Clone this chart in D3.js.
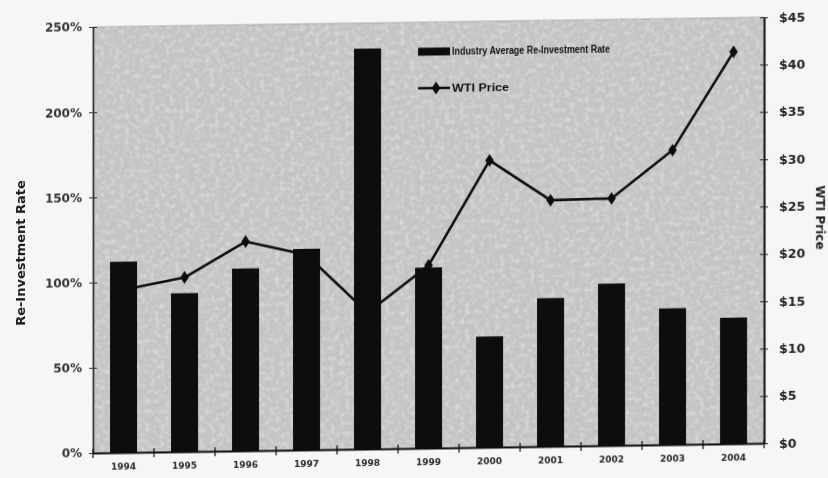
<!DOCTYPE html>
<html>
<head>
<meta charset="utf-8">
<script src="https://cdn.jsdelivr.net/npm/d3@7"></script>
<style>
  html, body { margin: 0; padding: 0; background: #f6f6f6; }
  svg { display: block; }
</style>
</head>
<body>
<svg id="chart" width="828" height="478"></svg>
<script>
// Data
const years = ["1994", "1995", "1996", "1997", "1998", "1999", "2000", "2001", "2002", "2003", "2004"];
const reinvestRate = [112, 93, 107, 118, 235, 106, 65, 87, 95, 80, 74];       // percent
const wtiPrice = [17.2, 18.4, 22.1, 20.6, 14.4, 19.3, 30.3, 26.0, 26.1, 31.1, 41.4]; // US$ / bbl
const rateTicks = [0, 50, 100, 150, 200, 250];
const priceTicks = [0, 5, 10, 15, 20, 25, 30, 35, 40, 45];
const seriesNames = ["Industry Average Re-Investment Rate", "WTI Price"];
const axisTitles = ["Re-Investment Rate", "WTI Price"];

// Layout
const plot = { left: 93, right: 764, top: 27, bottom: 453 };
const skew = -0.0145;              // the printed page sits slightly tilted
const ink = "#111";
const tickFont = "'DejaVu Sans', Verdana, sans-serif";
const textFont = "'Liberation Sans', Arial, sans-serif";

const svg = d3.select("#chart");
const defs = svg.append("defs");

// paper grain for the shaded plot area
const grain = defs.append("filter").attr("id", "grain")
  .attr("x", 0).attr("y", 0).attr("width", 1).attr("height", 1);
grain.append("feTurbulence").attr("type", "fractalNoise")
  .attr("baseFrequency", 0.2).attr("numOctaves", 3).attr("seed", 7);
grain.append("feColorMatrix").attr("type", "matrix")
  .attr("values", "0 0 0 0 1  0 0 0 0 1  0 0 0 0 1  0 0 0 2.2 -0.95");

const soft = defs.append("filter").attr("id", "soft")
  .attr("x", -0.05).attr("y", -0.05).attr("width", 1.1).attr("height", 1.1);
soft.append("feGaussianBlur").attr("stdDeviation", 0.45);

const g = svg.append("g")
  .attr("transform", `matrix(1,${skew},0,1,0,${-skew * plot.left})`)
  .attr("filter", "url(#soft)");

// Scales
const x = d3.scaleBand().domain(years)
  .range([plot.left, plot.right]).paddingInner(0.557).paddingOuter(0.2785);
const yRate = d3.scaleLinear().domain([0, 250]).range([plot.bottom, plot.top]);
const yPrice = d3.scaleLinear().domain([0, 45]).range([plot.bottom, plot.top]);

// Plot background
g.append("rect")
  .attr("x", plot.left).attr("y", plot.top)
  .attr("width", plot.right - plot.left).attr("height", plot.bottom - plot.top)
  .attr("fill", "#c4c4c4").attr("stroke", "#a8a8a8").attr("stroke-width", 1);
g.append("rect")
  .attr("x", plot.left).attr("y", plot.top)
  .attr("width", plot.right - plot.left).attr("height", plot.bottom - plot.top)
  .attr("filter", "url(#grain)").attr("opacity", 0.4);

// Bars
g.append("g").selectAll("rect").data(years).join("rect")
  .attr("x", d => x(d))
  .attr("y", (d, i) => yRate(reinvestRate[i]))
  .attr("width", x.bandwidth())
  .attr("height", (d, i) => yRate(0) - yRate(reinvestRate[i]))
  .attr("fill", "#0c0c0c");

// WTI line
const cx = d => x(d) + x.bandwidth() / 2;
const line = d3.line().x((d, i) => cx(years[i])).y(d => yPrice(d));
g.append("path").datum(wtiPrice)
  .attr("d", line).attr("fill", "none")
  .attr("stroke", ink).attr("stroke-width", 2.6).attr("stroke-linejoin", "round");
const diamond = d3.symbol().type(d3.symbolDiamond).size(48);
g.append("g").selectAll("path").data(wtiPrice).join("path")
  .attr("d", diamond)
  .attr("transform", (d, i) => `translate(${cx(years[i])},${yPrice(d)}) scale(1.15,1)`)
  .attr("fill", ink);

// Left axis
const leftAxis = g.append("g").attr("transform", `translate(${plot.left},0)`)
  .call(d3.axisLeft(yRate).tickValues(rateTicks).tickFormat(d => d + "%")
    .tickSizeInner(4).tickSizeOuter(0).tickPadding(7));
leftAxis.selectAll(".tick line").attr("x1", -4).attr("x2", 4).attr("stroke", "#333");
leftAxis.select(".domain").attr("stroke", "#333").attr("stroke-width", 1.6);
leftAxis.selectAll("text").attr("font-family", tickFont).attr("font-weight", "bold")
  .attr("font-size", 12).attr("fill", "#333");

// Right axis
const rightAxis = g.append("g").attr("transform", `translate(${plot.right},0)`)
  .call(d3.axisRight(yPrice).tickValues(priceTicks).tickFormat(d => "$" + d)
    .tickSizeInner(4).tickSizeOuter(0).tickPadding(11));
rightAxis.selectAll(".tick line").attr("x1", -4).attr("x2", 4).attr("stroke", "#222");
rightAxis.select(".domain").attr("stroke", ink).attr("stroke-width", 2);
rightAxis.selectAll("text").attr("font-family", tickFont).attr("font-weight", "bold")
  .attr("font-size", 12.5).attr("fill", "#222");

// Bottom axis: labels under bars, tick marks at category boundaries
const bottomAxis = g.append("g").attr("transform", `translate(0,${plot.bottom})`)
  .call(d3.axisBottom(x).tickSize(0).tickPadding(11));
bottomAxis.select(".domain").attr("stroke", ink).attr("stroke-width", 2);
bottomAxis.selectAll("text").attr("font-family", tickFont).attr("font-weight", "bold")
  .attr("font-size", 9).attr("fill", "#2a2a2a");
const boundaries = years.map(d => cx(d) - x.step() / 2).concat([cx(years[years.length - 1]) + x.step() / 2]);
bottomAxis.append("g").selectAll("line").data(boundaries).join("line")
  .attr("x1", d => d).attr("x2", d => d).attr("y1", -4).attr("y2", 5)
  .attr("stroke", ink).attr("stroke-width", 1.2);

// Axis titles
g.append("text")
  .attr("transform", "translate(25,252) rotate(-90)")
  .attr("text-anchor", "middle")
  .attr("font-family", tickFont).attr("font-weight", "bold").attr("font-size", 13)
  .attr("fill", "#1a1a1a").text(axisTitles[0]);
g.append("text")
  .attr("transform", "translate(816,228) rotate(90)")
  .attr("text-anchor", "middle")
  .attr("font-family", tickFont).attr("font-weight", "bold").attr("font-size", 12)
  .attr("fill", "#1a1a1a").text(axisTitles[1]);

// Legend
const legend = g.append("g");
legend.append("rect").attr("x", 418).attr("y", 52.5).attr("width", 32).attr("height", 8).attr("fill", ink);
legend.append("text").attr("x", 452).attr("y", 56.5).attr("dy", "0.35em")
  .attr("font-family", textFont).attr("font-weight", "bold").attr("font-size", 11)
  .attr("textLength", 158).attr("lengthAdjust", "spacingAndGlyphs")
  .attr("fill", ink).text(seriesNames[0]);
legend.append("line").attr("x1", 418).attr("x2", 450).attr("y1", 93).attr("y2", 93)
  .attr("stroke", ink).attr("stroke-width", 2.4);
legend.append("path").attr("d", diamond)
  .attr("transform", "translate(436,93) scale(1.15,1)").attr("fill", ink);
legend.append("text").attr("x", 452).attr("y", 93).attr("dy", "0.35em")
  .attr("font-family", textFont).attr("font-weight", "bold").attr("font-size", 11)
  .attr("textLength", 57).attr("lengthAdjust", "spacingAndGlyphs")
  .attr("fill", ink).text(seriesNames[1]);
</script>
</body>
</html>
